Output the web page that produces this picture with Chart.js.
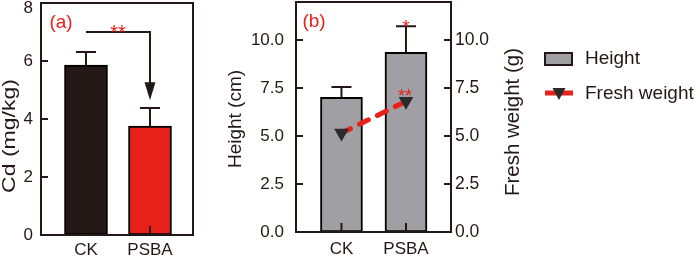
<!DOCTYPE html>
<html><head><meta charset="utf-8">
<script src="https://cdn.jsdelivr.net/npm/chart.js@4.4.1/dist/chart.umd.min.js"></script>
<style>
html,body{margin:0;padding:0;background:#fff;width:700px;height:257px;overflow:hidden}
#a{position:absolute;left:0;top:0}
#b{position:absolute;left:200px;top:0}
</style></head><body>
<canvas id="a" width="200" height="257"></canvas>
<canvas id="b" width="500" height="257"></canvas>
<script>
// ---- data ----
const categories = ['CK', 'PSBA'];
const categoryPos = [1, 2];
const cdValues = [5.86, 3.76];
const cdErrors = [0.45, 0.62];
const heightValues = [7.03, 9.38];
const heightErrors = [0.53, 1.35];
const freshWeightValues = [5.16, 6.82];
const cdTicks = [0, 2, 4, 6, 8];
const heightTicks = [0, 2.5, 5, 7.5, 10];
const freshWeightTicks = [0, 2.5, 5, 7.5, 10];
const cdArrowLevel = 7.0;
const cdArrowTip = 4.65;
const heightStarLevel = 10.95;
const freshWeightStarLevel = 7.35;

// ---- style ----
const FONT = "'Liberation Sans', Arial, sans-serif";
const INK = '#231815';
const RED = '#e8211a';
const GRAY = '#a0a0a4';

Chart.defaults.font.family = FONT;
Chart.defaults.color = INK;

function fixedTicks(arr) { return s => { s.ticks = arr.map(v => ({ value: v })); }; }
function fixW(w) { return s => { s.width = w; s.paddingTop = 0; s.paddingBottom = 0; }; }
function fixH(h) { return s => { s.height = h; s.paddingLeft = 0; s.paddingRight = 0; }; }

const framePlugin = {
  id: 'frame',
  afterDatasetsDraw(chart) {
    const { ctx, chartArea: a } = chart;
    ctx.save();
    ctx.strokeStyle = INK; ctx.lineWidth = 2;
    ctx.strokeRect(a.left, a.top, a.right - a.left, a.bottom - a.top);
    const tl = 7;
    ['y', 'y1'].forEach(id => {
      const s = chart.scales[id];
      if (!s) return;
      s.ticks.forEach(t => {
        const py = Math.round(s.getPixelForValue(t.value));
        ctx.beginPath();
        if (s.position === 'right') { ctx.moveTo(a.right, py); ctx.lineTo(a.right - tl, py); }
        else { ctx.moveTo(a.left, py); ctx.lineTo(a.left + tl, py); }
        ctx.stroke();
      });
    });
    ctx.restore();
  }
};

const errorPlugin = {
  id: 'errs',
  afterDatasetsDraw(chart) {
    const { ctx } = chart;
    chart.data.datasets.forEach((ds, di) => {
      if (!ds.errors) return;
      const meta = chart.getDatasetMeta(di);
      const ys = chart.scales[meta.yAxisID];
      ctx.save();
      ctx.strokeStyle = INK; ctx.lineWidth = 2;
      meta.data.forEach((el, i) => {
        const v = ds.data[i].y;
        const top = ys.getPixelForValue(v + ds.errors[i]);
        ctx.beginPath();
        ctx.moveTo(el.x, el.y); ctx.lineTo(el.x, top);
        ctx.moveTo(el.x - 10, top); ctx.lineTo(el.x + 10, top);
        ctx.moveTo(el.x, el.base); ctx.lineTo(el.x, el.base - 9);
        ctx.stroke();
      });
      ctx.restore();
    });
  }
};

function rotText(ctx, text, x, y, size, sx) {
  ctx.save();
  ctx.translate(x, y); ctx.rotate(-Math.PI / 2); ctx.scale(sx || 1, 1);
  ctx.font = size + 'px ' + FONT;
  ctx.fillStyle = INK; ctx.textAlign = 'center'; ctx.textBaseline = 'middle';
  ctx.fillText(text, 0, 0);
  ctx.restore();
}
function stars(ctx, text, x, yCenter, size) {
  ctx.save();
  ctx.font = size + 'px ' + FONT;
  ctx.fillStyle = RED; ctx.textAlign = 'center'; ctx.textBaseline = 'alphabetic';
  ctx.fillText(text, x, yCenter + size * 0.58);
  ctx.restore();
}
function panelLabel(ctx, text, x, y) {
  ctx.save();
  ctx.font = '19px ' + FONT;
  ctx.fillStyle = RED; ctx.textAlign = 'center'; ctx.textBaseline = 'middle';
  ctx.fillText(text, x, y);
  ctx.restore();
}

const cdTop = cdTicks[cdTicks.length - 1];

const annotA = {
  id: 'annotA',
  afterDraw(chart) {
    const { ctx, chartArea: a } = chart;
    const xs = chart.scales.x, ys = chart.scales.y;
    const x1 = xs.getPixelForValue(categoryPos[0]), x2 = xs.getPixelForValue(categoryPos[1]);
    const yl = ys.getPixelForValue(cdArrowLevel), yt = ys.getPixelForValue(cdArrowTip);
    ctx.save();
    ctx.strokeStyle = INK; ctx.fillStyle = INK; ctx.lineWidth = 2;
    ctx.beginPath();
    ctx.moveTo(x1, yl); ctx.lineTo(x2, yl); ctx.lineTo(x2, yt - 14);
    ctx.stroke();
    ctx.beginPath();
    ctx.moveTo(x2 - 5.5, yt - 18); ctx.lineTo(x2 + 5.5, yt - 18); ctx.lineTo(x2, yt);
    ctx.closePath(); ctx.fill();
    // top tick label, nudged inside the canvas as in the reference
    ctx.font = '17px ' + FONT; ctx.textAlign = 'right'; ctx.textBaseline = 'middle';
    ctx.fillText(String(cdTop), a.left - 8, ys.getPixelForValue(cdTop) + 5);
    ctx.restore();
    stars(ctx, '**', (x1 + x2) / 2, yl - 5, 20);
    panelLabel(ctx, '(a)', a.left + 20, a.top + 20);
    rotText(ctx, 'Cd (mg/kg)', 10, 136, 18, 1.28);
  }
};

const annotB = {
  id: 'annotB',
  afterDraw(chart) {
    const { ctx, chartArea: a } = chart;
    const xs = chart.scales.x, ys = chart.scales.y;
    const x2 = xs.getPixelForValue(categoryPos[1]);
    stars(ctx, '*', x2, ys.getPixelForValue(heightStarLevel), 19);
    stars(ctx, '**', x2 - 1, ys.getPixelForValue(freshWeightStarLevel), 18);
    panelLabel(ctx, '(b)', a.left + 18, a.top + 20);
    rotText(ctx, 'Height (cm)', 36, 119, 19);
    rotText(ctx, 'Fresh weight (g)', 313, 122, 20.5);
    // legend
    const lx = a.right + 94;
    ctx.save();
    ctx.fillStyle = GRAY; ctx.strokeStyle = INK; ctx.lineWidth = 2;
    ctx.fillRect(lx, 53, 27, 12); ctx.strokeRect(lx, 53, 27, 12);
    ctx.strokeStyle = RED; ctx.lineWidth = 5;
    ctx.beginPath(); ctx.moveTo(lx, 93); ctx.lineTo(lx + 28, 93); ctx.stroke();
    ctx.fillStyle = '#2b2b2b';
    ctx.beginPath(); ctx.moveTo(lx + 7.5, 88); ctx.lineTo(lx + 20.5, 88); ctx.lineTo(lx + 14, 100); ctx.closePath(); ctx.fill();
    ctx.font = '19px ' + FONT; ctx.fillStyle = INK; ctx.textAlign = 'left'; ctx.textBaseline = 'middle';
    ctx.fillText('Height', lx + 40, 59);
    ctx.fillText('Fresh weight', lx + 40, 94);
    ctx.restore();
  }
};

const tickFont = { size: 17, family: FONT };

new Chart(document.getElementById('a'), {
  type: 'bar',
  data: {
    datasets: [{
      data: categories.map((c, i) => ({ x: categoryPos[i], y: cdValues[i] })),
      errors: cdErrors,
      backgroundColor: [INK, RED], borderColor: '#000', borderWidth: 2,
      barThickness: 43, borderSkipped: false
    }]
  },
  options: {
    responsive: false, animation: false, devicePixelRatio: 1,
    layout: { autoPadding: false, padding: { top: 3, right: 7, left: 0, bottom: 0 } },
    plugins: { legend: { display: false }, tooltip: { enabled: false } },
    scales: {
      x: {
        type: 'linear', min: 0.297, max: 2.672, offset: false,
        grid: { display: false, drawTicks: false }, border: { display: false },
        afterBuildTicks: fixedTicks(categoryPos), afterFit: fixH(22),
        ticks: { callback: (v, i) => categories[i], font: tickFont, color: INK, padding: 5, autoSkip: false, maxRotation: 0 }
      },
      y: {
        min: 0, max: 8,
        grid: { display: false, drawTicks: false }, border: { display: false },
        afterBuildTicks: fixedTicks(cdTicks), afterFit: fixW(41),
        ticks: { color: INK, padding: 8, font: tickFont,
          callback: (v, i) => i === cdTicks.length - 1 ? '' : String(v) }
      }
    }
  },
  plugins: [errorPlugin, framePlugin, annotA]
});

new Chart(document.getElementById('b'), {
  type: 'bar',
  data: {
    datasets: [{
      type: 'line', label: 'Fresh weight', yAxisID: 'y1',
      data: categories.map((c, i) => ({ x: categoryPos[i], y: freshWeightValues[i] })),
      borderColor: RED, borderWidth: 5, borderDash: [10, 10], borderCapStyle: 'round',
      pointStyle: 'triangle', rotation: 180, pointRadius: 8.5,
      pointBackgroundColor: '#2b2b2b', pointBorderColor: '#2b2b2b', pointBorderWidth: 0,
      fill: false, tension: 0
    }, {
      type: 'bar', label: 'Height', yAxisID: 'y',
      data: categories.map((c, i) => ({ x: categoryPos[i], y: heightValues[i] })),
      errors: heightErrors,
      backgroundColor: GRAY, borderColor: '#000', borderWidth: 2,
      barThickness: 42, borderSkipped: false
    }]
  },
  options: {
    responsive: false, animation: false, devicePixelRatio: 1,
    layout: { autoPadding: false, padding: { top: 2, right: 179, left: 0, bottom: 0 } },
    plugins: { legend: { display: false }, tooltip: { enabled: false } },
    scales: {
      x: {
        type: 'linear', min: 0.295, max: 2.698, offset: false,
        grid: { display: false, drawTicks: false }, border: { display: false },
        afterBuildTicks: fixedTicks(categoryPos), afterFit: fixH(25),
        ticks: { callback: (v, i) => categories[i], font: tickFont, color: INK, padding: 7, autoSkip: false, maxRotation: 0 }
      },
      y: {
        position: 'left', min: 0, max: 12,
        grid: { display: false, drawTicks: false }, border: { display: false },
        afterBuildTicks: fixedTicks(heightTicks), afterFit: fixW(96),
        ticks: { font: tickFont, color: INK, padding: 12, callback: v => v.toFixed(1) }
      },
      y1: {
        position: 'right', min: 0, max: 12,
        grid: { display: false, drawTicks: false }, border: { display: false },
        afterBuildTicks: fixedTicks(freshWeightTicks), afterFit: fixW(70),
        ticks: { font: { size: 17.5, family: FONT }, color: INK, padding: 4, callback: v => v.toFixed(1) }
      }
    }
  },
  plugins: [errorPlugin, framePlugin, annotB]
});
</script>
</body></html>
